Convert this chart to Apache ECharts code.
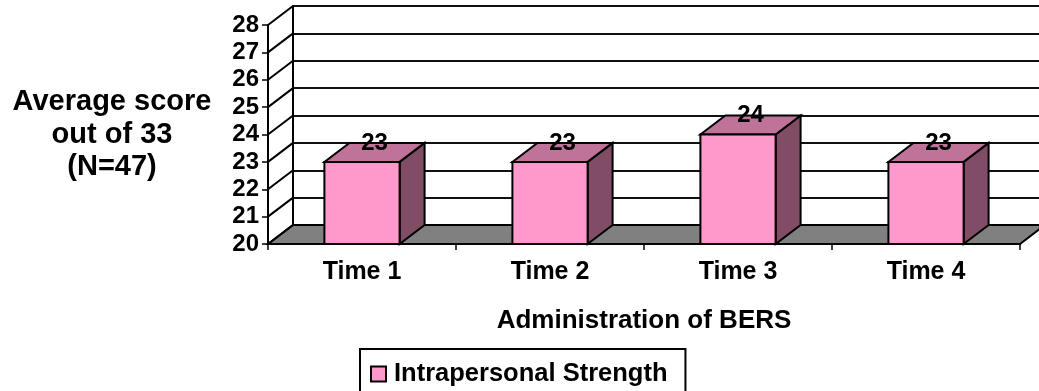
<!DOCTYPE html>
<html>
<head>
<meta charset="utf-8">
<script src="https://cdn.jsdelivr.net/npm/echarts@6/dist/echarts.min.js"></script>
<style>
  html, body { margin: 0; padding: 0; background: #fff; }
  #chart { width: 1039px; height: 391px; }
</style>
</head>
<body>
<div id="chart"></div>
<script>
// BERS administrations and average Intrapersonal Strength scores
const categories = ['Time 1', 'Time 2', 'Time 3', 'Time 4'];
const seriesName = 'Intrapersonal Strength';
const scores = [23, 23, 24, 23];
const yTicks = [20, 21, 22, 23, 24, 25, 26, 27, 28];

const yMin = yTicks[0];
const yMax = yTicks[yTicks.length - 1];

// Pseudo-3D depth of the plot box (back wall is shifted right and up)
const DX = 25, DY = -19;
const FONT = '"Liberation Sans", Arial, sans-serif';
const FRONT = '#FF99CC', TOP = '#BF7399', SIDE = '#804C66', FLOOR = '#808080';

const chart = echarts.init(document.getElementById('chart'));

chart.setOption({
  backgroundColor: '#fff',
  animation: false,
  textStyle: { fontFamily: FONT, color: '#000' },
  grid: [
    { left: 268, top: 25, width: 752, height: 219 },           // front plane
    { left: 268 + DX, top: 25 + DY, width: 752, height: 219 }  // back wall
  ],
  legend: {
    data: [seriesName],
    left: 360, top: 349,
    icon: 'rect', itemWidth: 15, itemHeight: 15,
    borderColor: '#000', borderWidth: 2, borderRadius: 0,
    padding: [12, 18, 12, 10],
    itemStyle: { color: FRONT, borderColor: '#000', borderWidth: 2 },
    textStyle: { fontFamily: FONT, fontWeight: 'bold', fontSize: 25.5, color: '#000', padding: [0, 0, 0, 3] }
  },
  xAxis: [
    {
      type: 'category', gridIndex: 0, data: categories,
      axisLine: { show: true, lineStyle: { color: '#000', width: 2 } },
      axisTick: { show: true, length: 6, lineStyle: { color: '#000', width: 1.5 } },
      axisLabel: { fontFamily: FONT, fontWeight: 'bold', fontSize: 25, color: '#000', margin: 16 },
      splitLine: { show: false },
      name: 'Administration of BERS', nameLocation: 'middle', nameGap: 64,
      nameTextStyle: { fontFamily: FONT, fontWeight: 'bold', fontSize: 26, color: '#000', verticalAlign: 'top' }
    },
    {
      type: 'category', gridIndex: 1, data: categories, show: false
    }
  ],
  yAxis: [
    {
      type: 'value', gridIndex: 0, min: yMin, max: yMax, interval: 1,
      axisLine: { show: true, lineStyle: { color: '#000', width: 2 } },
      axisTick: { show: true, length: 6, lineStyle: { color: '#000', width: 1.5 } },
      axisLabel: { fontFamily: FONT, fontWeight: 'bold', fontSize: 24, color: '#000', margin: 9 },
      splitLine: { show: false },
      name: 'Average score\nout of 33\n(N=47)', nameLocation: 'middle', nameRotate: 0, nameGap: 156,
      nameTextStyle: { fontFamily: FONT, fontWeight: 'bold', fontSize: 29, lineHeight: 32.5, color: '#000', align: 'center', verticalAlign: 'middle', padding: [0, 0, 10, 0] }
    },
    {
      type: 'value', gridIndex: 1, min: yMin, max: yMax, interval: 1,
      axisLine: { show: true, lineStyle: { color: '#000', width: 2 } },
      axisTick: { show: false },
      axisLabel: { show: false },
      splitLine: { show: true, lineStyle: { color: '#111', width: 2 } }
    }
  ],
  series: [
    {
      // floor and side-wall edges joining the front axis to the back wall
      type: 'custom', name: 'frame', xAxisIndex: 0, yAxisIndex: 0, z: 1, silent: true,
      data: yTicks.map(v => [0, v]),
      renderItem: function (params, api) {
        const cs = params.coordSys;
        const p = api.coord([0, api.value(1)]);
        const y = p[1];
        const x0 = cs.x;
        const children = [{
          type: 'line',
          shape: { x1: x0, y1: y, x2: x0 + DX, y2: y + DY },
          style: { stroke: '#000', lineWidth: 2 }
        }];
        if (params.dataIndex === 0) {
          const x1 = cs.x + cs.width;
          children.unshift({
            type: 'polygon',
            shape: { points: [[x0, y], [x1, y], [x1 + DX, y + DY], [x0 + DX, y + DY]] },
            style: { fill: FLOOR, stroke: '#000', lineWidth: 2 }
          });
        }
        return { type: 'group', children: children };
      }
    },
    {
      type: 'custom', name: seriesName, xAxisIndex: 0, yAxisIndex: 0, z: 3,
      itemStyle: { color: FRONT, borderColor: '#000', borderWidth: 2 },
      data: scores.map((v, i) => [i, v]),
      renderItem: function (params, api) {
        const i = api.value(0), v = api.value(1);
        const base = api.coord([i, yMin]);
        const top = api.coord([i, v]);
        const w = api.size([1, 0])[0] * 0.4;
        const xl = top[0] - w / 2, xr = top[0] + w / 2;
        const yt = top[1], yb = base[1];
        const edge = { stroke: '#000', lineWidth: 2, lineJoin: 'miter' };
        return {
          type: 'group',
          children: [
            {
              type: 'polygon',
              shape: { points: [[xr, yt], [xr, yb], [xr + DX, yb + DY], [xr + DX, yt + DY]] },
              style: Object.assign({ fill: SIDE }, edge)
            },
            {
              type: 'polygon',
              shape: { points: [[xl, yt], [xr, yt], [xr + DX, yt + DY], [xl + DX, yt + DY]] },
              style: Object.assign({ fill: TOP }, edge)
            },
            {
              type: 'rect',
              shape: { x: xl, y: yt, width: w, height: yb - yt },
              style: Object.assign({ fill: FRONT }, edge)
            },
            {
              type: 'text',
              x: top[0] + DX / 2, y: yt + DY,
              style: {
                text: String(v), fontFamily: FONT, fontWeight: 'bold', fontSize: 24,
                fill: '#000', align: 'center', verticalAlign: 'middle'
              }
            }
          ]
        };
      }
    }
  ]
});
</script>
</body>
</html>
